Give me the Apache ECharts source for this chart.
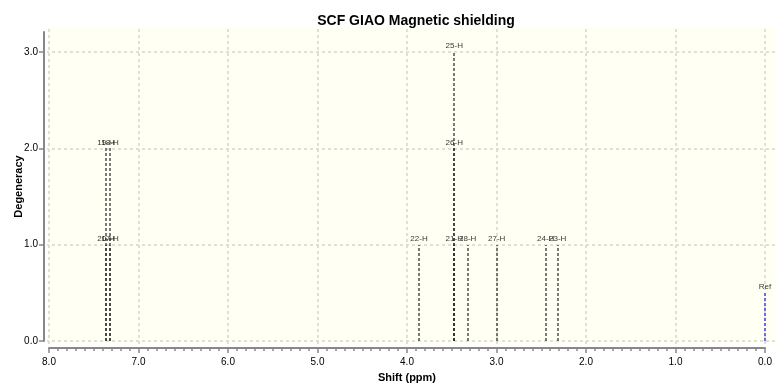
<!DOCTYPE html>
<html>
<head>
<meta charset="utf-8">
<script src="https://cdn.jsdelivr.net/npm/echarts@6/dist/echarts.min.js"></script>
<style>html,body{margin:0;padding:0;background:#fff}#c{width:776px;height:383px}</style>
</head>
<body>
<div id="c"></div>
<script>
// ---- data ----
const stickShifts = [7.363, 7.318, 3.866, 3.472, 3.322, 2.998, 2.450, 2.316];
const stickDegeneracy = [2, 2, 1, 3, 1, 1, 1, 1];
const stickLabels = [
  ['20-H', '19-H'],
  ['17-H', '18-H'],
  ['22-H'],
  ['21-H', '26-H', '25-H'],
  ['28-H'],
  ['27-H'],
  ['24-H'],
  ['23-H']
];
const refShift = 0.0;
const refHeight = 0.5;
const refLabel = 'Ref';
const xTickValues = [8, 7, 6, 5, 4, 3, 2, 1, 0];
const yTickValues = [0, 1, 2, 3];

// build per-atom stacked entries
const atomData = [];
stickShifts.forEach((s, i) => {
  for (let k = 1; k <= stickDegeneracy[i]; k++) {
    atomData.push({ value: [s, k], name: stickLabels[i][k - 1] });
  }
});

const font = 'Liberation Sans, Arial, Helvetica, sans-serif';
const chart = echarts.init(document.getElementById('c'), null, { renderer: 'canvas' });

function stickRender(color) {
  return function (params, api) {
    const x = api.value(0), h = api.value(1);
    const p0 = api.coord([x, 0]);
    const p1 = api.coord([x, h]);
    const px = Math.round(p0[0]);
    return {
      type: 'line',
      shape: { x1: px, y1: Math.round(p0[1]), x2: px, y2: Math.round(p1[1]) },
      style: { stroke: color, lineWidth: 2, lineDash: [3, 2] }
    };
  };
}

const gridLineStyle = { color: '#d6d6cc', type: [3, 3], width: 1.5 };

chart.setOption({
  animation: false,
  backgroundColor: '#ffffff',
  title: {
    text: 'SCF GIAO Magnetic shielding',
    left: 411, top: 9, textAlign: 'center',
    textStyle: { fontFamily: font, fontSize: 14, fontWeight: 'bold', color: '#000' }
  },
  grid: [
    { left: 47, right: 1, top: 27, bottom: 39, show: true, backgroundColor: '#fffff3', borderWidth: 0, containLabel: false, outerBoundsMode: 'none' },
    { left: 49, right: 11, top: 32, bottom: 42, containLabel: false, outerBoundsMode: 'none' }
  ],
  xAxis: [
    { gridIndex: 0, type: 'value', inverse: true, min: -0.1117, max: 8.0223, show: false },
    {
      gridIndex: 1, type: 'value', inverse: true, min: 0, max: 8, interval: 1, offset: 7,
      name: 'Shift (ppm)', nameLocation: 'middle', nameGap: 24,
      nameTextStyle: { fontFamily: font, fontSize: 11, fontWeight: 'bold', color: '#000' },
      axisLine: { show: true, onZero: false, lineStyle: { color: '#888', width: 2 } },
      axisTick: { show: true, length: 5, lineStyle: { color: '#888', width: 1.5 } },
      minorTick: { show: true, splitNumber: 10, length: 3, lineStyle: { color: '#888', width: 1.5 } },
      splitLine: { show: false },
      axisLabel: { margin: 9, fontFamily: font, fontSize: 10, color: '#000', formatter: v => xTickValues.includes(v) ? v.toFixed(1) : '' }
    }
  ],
  yAxis: [
    { gridIndex: 0, type: 'value', min: -0.0311, max: 3.2595, show: false },
    {
      gridIndex: 1, type: 'value', position: 'left', min: 0, max: 3.2077, interval: 1, offset: 5,
      name: 'Degeneracy', nameLocation: 'middle', nameGap: 20, nameMoveOverlap: false,
      nameTextStyle: { fontFamily: font, fontSize: 11, fontWeight: 'bold', color: '#000' },
      axisLine: { show: true, onZero: false, lineStyle: { color: '#888', width: 2 } },
      axisTick: { show: true, inside: false, length: 5, lineStyle: { color: '#888', width: 1.5 } },
      splitLine: { show: false },
      axisLabel: { margin: 6, fontFamily: font, fontSize: 10, color: '#000', showMaxLabel: false,
        formatter: v => yTickValues.includes(v) ? v.toFixed(1) : '' }
    }
  ],
  series: [
    {
      type: 'scatter', xAxisIndex: 0, yAxisIndex: 0, data: [], silent: true, z: 0,
      markLine: {
        silent: true, symbol: 'none', label: { show: false }, z: 0,
        lineStyle: gridLineStyle,
        data: xTickValues.map(v => ({ xAxis: v })).concat(yTickValues.map(v => ({ yAxis: v })))
      }
    },
    {
      type: 'custom', xAxisIndex: 1, yAxisIndex: 1, silent: true, z: 3,
      renderItem: stickRender('rgba(40,40,40,0.62)'),
      encode: { x: 0, y: 1 },
      data: atomData.map(d => d.value)
    },
    {
      type: 'custom', xAxisIndex: 1, yAxisIndex: 1, silent: true, z: 3,
      renderItem: stickRender('#6b6be6'),
      encode: { x: 0, y: 1 },
      data: [[refShift, refHeight]]
    },
    {
      type: 'scatter', xAxisIndex: 1, yAxisIndex: 1, symbolSize: 0, silent: true, z: 4,
      label: {
        show: true, position: 'top', distance: 2, formatter: p => p.name,
        fontFamily: font, fontSize: 8, color: '#000'
      },
      data: atomData.concat([{ value: [refShift, refHeight], name: refLabel }])
    }
  ]
});
</script>
</body>
</html>
